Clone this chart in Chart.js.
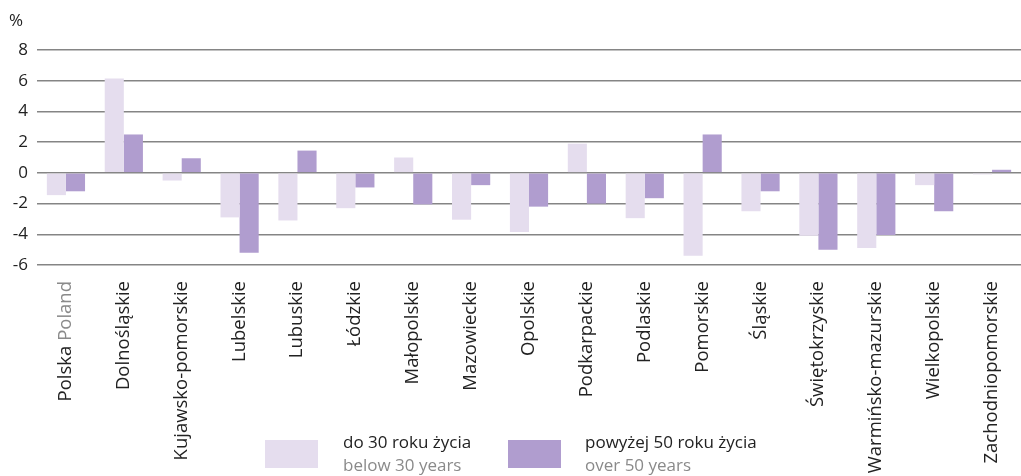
<!DOCTYPE html>
<html>
<head>
<meta charset="utf-8">
<script src="https://cdn.jsdelivr.net/npm/chart.js@4"></script>
<style>
  body { margin: 0; background: #fff; font-family: "Open Sans", sans-serif; }
  #wrap { position: relative; width: 1021px; height: 476px; }
  .legend { position: absolute; top: 430px; font-size: 17px; line-height: 23px; color: #222; }
  .legend .box { position: absolute; width: 53px; height: 28px; top: 10px; }
  .legend .en { color: #8a8a8a; }
</style>
</head>
<body>
<div id="wrap">
  <canvas id="chart" width="1021" height="476"></canvas>
  <div class="legend" style="left:265px">
    <div class="box" style="left:0;background:#e5ddee"></div>
    <div style="margin-left:78px">do 30 roku życia<br><span class="en">below 30 years</span></div>
  </div>
  <div class="legend" style="left:508px">
    <div class="box" style="left:0;background:#b09dcf"></div>
    <div style="margin-left:77px">powyżej 50 roku życia<br><span class="en">over 50 years</span></div>
  </div>
</div>
<script>
// Data
const regions = ['Polska', 'Dolnośląskie', 'Kujawsko-pomorskie', 'Lubelskie', 'Lubuskie', 'Łódzkie',
    'Małopolskie', 'Mazowieckie', 'Opolskie', 'Podkarpackie', 'Podlaskie', 'Pomorskie', 'Śląskie',
    'Świętokrzyskie', 'Warmińsko-mazurskie', 'Wielkopolskie', 'Zachodniopomorskie'];
const under30 = [-1.45, 6.15, -0.5, -2.9, -3.1, -2.3, 1.0, -3.05, -3.85, 1.9, -2.95, -5.4, -2.5, -4.1, -4.9, -0.8, -0.1];
const over50 = [-1.2, 2.5, 0.95, -5.2, 1.45, -0.95, -2.05, -0.8, -2.2, -2.0, -1.65, 2.5, -1.2, -5.0, -4.05, -2.5, 0.2];
const yTicks = [-6, -4, -2, 0, 2, 4, 6, 8];

const FONT = '"Open Sans", sans-serif';

// draws rotated region labels and the % unit
const labelsPlugin = {
    id: 'labels',
    afterDraw(chart) {
        const ctx = chart.ctx;
        const x = chart.scales.x;
        ctx.save();
        ctx.font = '17px ' + FONT;
        ctx.fillStyle = '#222';
        ctx.fillText('%', 9, 26);
        ctx.font = '18.5px ' + FONT;
        regions.forEach((name, i) => {
            const px = x.getPixelForTick(i);
            ctx.save();
            ctx.translate(px + 5, 281);
            ctx.rotate(-Math.PI / 2);
            ctx.textAlign = 'right';
            if (i === 0) {
                ctx.fillStyle = '#8a8a8a';
                ctx.fillText('Poland', 0, 0);
                const w = ctx.measureText(' Poland').width;
                ctx.fillStyle = '#222';
                ctx.fillText('Polska', -w, 0);
            } else {
                ctx.fillStyle = '#222';
                ctx.fillText(name, 0, 0);
            }
            ctx.restore();
        });
        ctx.restore();
    }
};

new Chart(document.getElementById('chart'), {
    type: 'bar',
    data: {
        labels: regions,
        datasets: [
            { label: 'do 30 roku życia', data: under30, backgroundColor: '#e5ddee' },
            { label: 'powyżej 50 roku życia', data: over50, backgroundColor: '#b09dcf' }
        ]
    },
    options: {
        responsive: false,
        animation: false,
        categoryPercentage: 0.66,
        barPercentage: 1.0,
        layout: { padding: { top: 50, right: 0, left: 0, bottom: 0 } },
        plugins: { legend: { display: false }, tooltip: { enabled: false } },
        scales: {
            x: {
                grid: { display: false },
                border: { display: false },
                ticks: { display: false },
                afterFit: s => { s.height = 211; }
            },
            y: {
                min: -6, max: 8,
                afterBuildTicks: s => { s.ticks = yTicks.map(v => ({ value: v })); },
                grid: { color: '#858585', lineWidth: 1.5, drawTicks: false },
                border: { display: false },
                ticks: { color: '#222', font: { family: FONT, size: 17 }, padding: 9 },
                afterFit: s => { s.width = 37; }
            }
        }
    },
    plugins: [labelsPlugin]
});
</script>
</body>
</html>
